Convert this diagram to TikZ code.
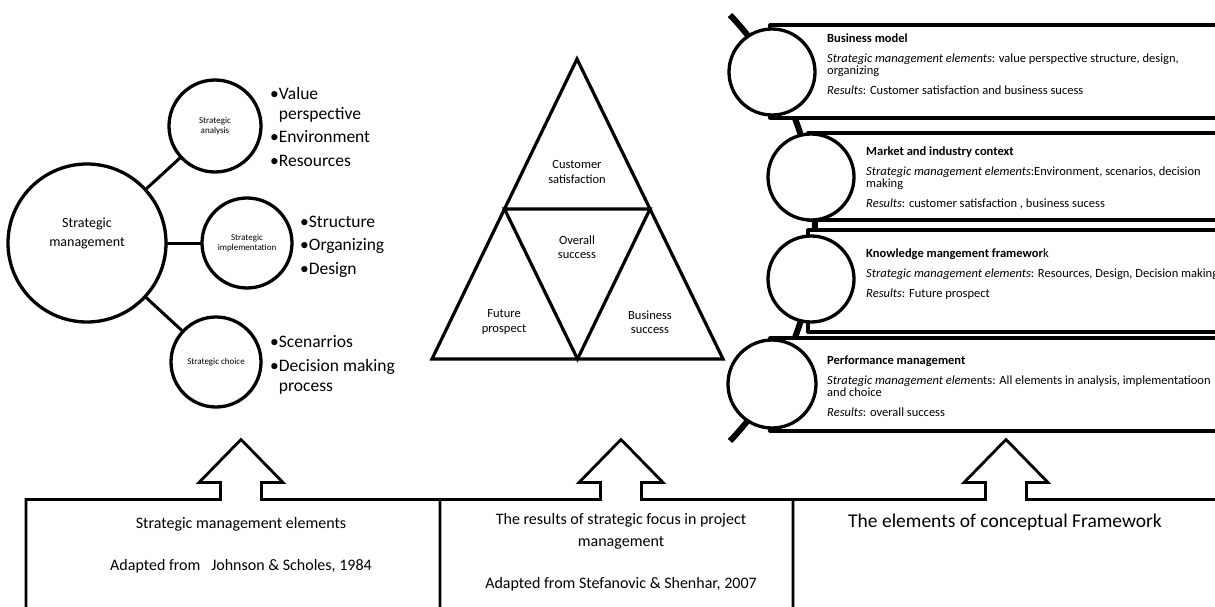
\documentclass[tikz,border=0pt]{standalone}
\usepackage{fontspec}
\setmainfont{Carlito}
\usetikzlibrary{calc}
\tikzset
{
  ring/.style={circle,draw,line width=3.3pt,fill=white,inner sep=0pt,align=center},
  link/.style={line width=3pt},
  lbl/.style={align=center,inner sep=0pt},
  items/.style={anchor=north west,align=left,inner sep=0pt,font=\fontsize{17.5}{20}\selectfont},
  tri/.style={line width=3.2pt,line join=miter},
  spine/.style={line width=6pt,line cap=butt},
  panel/.style={draw,line width=3.2pt,fill=white},
  ptext/.style={anchor=north west,align=left,inner sep=0pt,font=\fontsize{12.5}{12.5}\selectfont},
  frame/.style={line width=2.8pt,line join=miter},
  btext/.style={inner sep=0pt,font=\fontsize{16}{19}\selectfont}
}

\begin{document}
\begin{tikzpicture}[x=1pt,y=-1pt,line cap=round,line join=round]
  \useasboundingbox (0,0) rectangle (1215,607);

  % strategic management elements
  \node[ring,minimum size=158pt] (sm) at (87,243) {};
  \node[lbl,font=\fontsize{14}{19}\selectfont] (smt) at ([yshift=10pt]sm.center) {Strategic\\management};
  \node[ring,minimum size=92pt,font=\fontsize{9}{9.5}\selectfont] (sa) at (215,126) {Strategic\\analysis};
  \node[ring,minimum size=90pt,font=\fontsize{9}{9.5}\selectfont] (si) at (247,243) {Strategic\\implementation};
  \node[ring,minimum size=90pt,font=\fontsize{9}{9.5}\selectfont] (sc) at (216,362) {Strategic choice};
  \draw[link] (sm) -- (sa);
  \draw[link] (sm) -- (si);
  \draw[link] (sm) -- (sc);
  % alineje
  \node[items] (la) at (270,87) {•Value\\\phantom{•}perspective\\[3.5pt]•Environment\\[3.5pt]•Resources};
  \node[items] (li) at (300,215.5) {•Structure\\[3.5pt]•Organizing\\[3.5pt]•Design};
  \node[items] (lc) at (270,335.5) {•Scenarrios\\[3.5pt]•Decision making\\\phantom{•}process};

  % trikotnik rezultatov
  \coordinate (T)  at (577,59);
  \coordinate (L)  at (432,359);
  \coordinate (R)  at (723,359);
  \coordinate (ML) at ($(T)!0.5!(L)$);
  \coordinate (MR) at ($(T)!0.5!(R)$);
  \coordinate (MB) at ($(L)!0.5!(R)$);
  \draw[tri] (T) -- (R) -- (L) -- cycle;
  \draw[tri] (ML) -- (MR) -- (MB) -- cycle;
  \node[lbl,font=\fontsize{12.5}{14.5}\selectfont] (cs) at (577,172) {Customer\\satisfaction};
  \node[lbl,font=\fontsize{12.5}{14.5}\selectfont] (os) at (577,247) {Overall\\success};
  \node[lbl,font=\fontsize{12.5}{14.5}\selectfont] (fp) at (504,322) {Future\\prospect};
  \node[lbl,font=\fontsize{12.5}{14.5}\selectfont] (bs) at (650,322) {Business\\success};

  % okvir: lok in pasovi
  \coordinate (S) at (505.6,228);
  \draw[spine] ($(S)+(-43.5:309.4)$) arc[start angle=-43.5,end angle=43.5,radius=309.4];
  \draw[panel] (770,25)  rectangle (1235,118);
  \draw[panel] (808,133) rectangle (1235,220);
  \draw[panel] (808,230) rectangle (1235,332);
  \draw[panel] (770,338) rectangle (1235,431);
  \node[ring,minimum size=86pt] (c1) at (772,72)  {};
  \node[ring,minimum size=86pt] (c2) at (811,177) {};
  \node[ring,minimum size=86pt] (c3) at (811,279) {};
  \node[ring,minimum size=88pt] (c4) at (772,384) {};
  \node[ptext] (p1) at (827,33.5) {\textbf{Business model}\\[7.5pt]\textit{Strategic management elements}: value perspective structure, design,\\organizing\\[7.5pt]\textit{Results}: Customer satisfaction and business sucess};
  \node[ptext] (p2) at (866,146.5) {\textbf{Market and industry context}\\[7.5pt]\textit{Strategic management elements}:Environment, scenarios, decision\\making\\[7.5pt]\textit{Results}: customer satisfaction , business sucess};
  \node[ptext] (p3) at (866,248.5) {\textbf{Knowledge mangement framewor}k\\[7.5pt]\textit{Strategic management elements}: Resources, Design, Decision making\\[7.5pt]\textit{Results}: Future prospect};
  \node[ptext] (p4) at (827,355.5) {\textbf{Performance management}\\[7.5pt]\textit{Strategic management elem}ents: All elements in analysis, implementatioon\\and choice\\[7.5pt]\textit{Results}: overall success};

  % spodnji okvirji s puscicami
  \draw[frame] (26,612) -- (26,499.5) -- (220.5,499.5) -- ++(0,-17) -- ++(-21.5,0) -- ++(42,-43) -- ++(42,43) -- ++(-21.5,0) -- ++(0,17) -- (440,499.5) -- (440,612);
  \draw[frame] (440,499.5) -- (600.5,499.5) -- ++(0,-17) -- ++(-21.5,0) -- ++(42,-43) -- ++(42,43) -- ++(-21.5,0) -- ++(0,17) -- (793,499.5) -- (793,612);
  \draw[frame] (793,499.5) -- (985.5,499.5) -- ++(0,-17) -- ++(-21.5,0) -- ++(42,-43) -- ++(42,43) -- ++(-21.5,0) -- ++(0,17) -- (1220,499.5);
  \node[btext] (b1a) at (241,524) {Strategic management elements};
  \node[btext] (b1b) at (241,566) {Adapted from\ \ \ Johnson \& Scholes, 1984};
  \node[btext] (b2a) at (621,520) {The results of strategic focus in project};
  \node[btext] (b2b) at (621,543) {management};
  \node[btext] (b2c) at (621,584) {Adapted from Stefanovic \& Shenhar, 2007};
  \node[btext,font=\fontsize{19.5}{23}\selectfont] (b3) at (1005,522) {The elements of conceptual Framework};
\end{tikzpicture}
\end{document}
